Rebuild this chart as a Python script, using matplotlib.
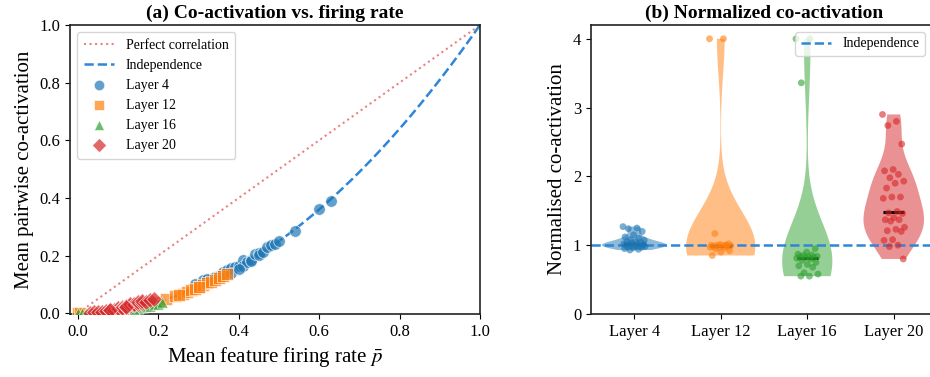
import numpy as np
import matplotlib
matplotlib.use("Agg")
from matplotlib import pyplot as plt

plt.rcParams['font.family'] = ['Liberation Serif', 'DejaVu Serif']
plt.rcParams['mathtext.fontset'] = 'stix'

# ---- panel (a) data: mean firing rate vs mean pairwise co-activation ----
l4_x = [0.29, 0.31, 0.33, 0.34, 0.36, 0.37, 0.38, 0.39, 0.40, 0.41, 0.41, 0.42, 0.43, 0.43, 0.44,
        0.45, 0.45, 0.46, 0.47, 0.48, 0.49, 0.50, 0.54, 0.60, 0.63, 0.36, 0.38, 0.40, 0.32, 0.35]
l4_y = [0.100, 0.115, 0.120, 0.127, 0.143, 0.150, 0.156, 0.160, 0.165, 0.185, 0.163, 0.176, 0.185, 0.180, 0.204,
        0.209, 0.203, 0.212, 0.228, 0.235, 0.240, 0.250, 0.286, 0.360, 0.389, 0.130, 0.141, 0.154, 0.118, 0.129]

l12_x = [0.0, 0.005, 0.18, 0.20, 0.22, 0.24, 0.26, 0.27, 0.28, 0.29, 0.30, 0.31, 0.32, 0.33, 0.34,
         0.35, 0.36, 0.37, 0.25, 0.30]
l12_y = [0.0, 0.0001, 0.033, 0.040, 0.049, 0.058, 0.068, 0.073, 0.079, 0.085, 0.090, 0.097, 0.104, 0.109, 0.116,
         0.122, 0.130, 0.136, 0.062, 0.092]

l16_x = [0.0, 0.01, 0.02, 0.04, 0.06, 0.08, 0.10, 0.11, 0.12, 0.13, 0.14, 0.15, 0.16, 0.17, 0.18,
         0.19, 0.20, 0.21, 0.09, 0.14]
l16_y = [0.0, 0.0002, 0.0004, 0.0012, 0.0025, 0.0045, 0.008, 0.0085, 0.011, 0.012, 0.015, 0.018, 0.020, 0.024, 0.026,
         0.030, 0.033, 0.038, 0.006, 0.013]

l20_x = [0.03, 0.04, 0.05, 0.06, 0.07, 0.08, 0.09, 0.10, 0.10, 0.11, 0.11, 0.12, 0.12, 0.13, 0.13,
         0.14, 0.14, 0.15, 0.15, 0.16, 0.16, 0.17, 0.18, 0.19, 0.08, 0.12]
l20_y = [0.0015, 0.0025, 0.004, 0.0055, 0.0075, 0.010, 0.012, 0.015, 0.018, 0.020, 0.017, 0.022, 0.026, 0.025, 0.030,
         0.028, 0.033, 0.032, 0.037, 0.035, 0.041, 0.040, 0.045, 0.050, 0.012, 0.020]

# ---- panel (b) data: normalised co-activation per layer (clipped at 4) ----
layer_names = ['Layer 4', 'Layer 12', 'Layer 16', 'Layer 20']
norm_l4 = [1.27, 1.25, 1.24, 1.20, 1.15, 1.12, 1.10, 1.08, 1.07, 1.05, 1.05, 1.04, 1.03, 1.02, 1.02,
           1.01, 1.00, 1.00, 1.00, 0.99, 0.99, 0.98, 0.98, 0.97, 0.97, 0.96, 0.95, 0.94, 0.93, 1.01]
norm_l12 = [4.0, 4.0, 1.17, 1.02, 1.01, 1.00, 1.00, 1.00, 0.99, 0.99, 0.98, 0.98, 0.97, 0.97, 0.96,
            0.95, 0.92, 0.90, 0.85, 1.00]
norm_l16 = [4.0, 4.0, 3.36, 0.95, 0.90, 0.87, 0.86, 0.85, 0.84, 0.83, 0.83, 0.82, 0.82, 0.81, 0.80,
            0.78, 0.75, 0.72, 0.70, 0.68, 0.60, 0.58, 0.55, 0.55]
norm_l20 = [2.90, 2.80, 2.74, 2.47, 2.10, 2.08, 2.03, 1.98, 1.93, 1.90, 1.83, 1.70, 1.70, 1.68, 1.49,
            1.47, 1.46, 1.40, 1.37, 1.37, 1.35, 1.26, 1.23, 1.21, 1.20, 1.08, 1.07, 1.00, 0.98, 0.80]

colors = ['#1f77b4', '#ff7f0e', '#2ca02c', '#d62728']
markers = ['o', 's', '^', 'D']
marker_sizes = [70, 70, 65, 65]
indep_color = '#2f86d6'

fig = plt.figure(figsize=(9.3, 3.77), dpi=100)
ax1 = fig.add_axes([70 / 930, 1 - 314 / 377, 410 / 930, 289 / 377])
ax2 = fig.add_axes([591 / 930, 1 - 314 / 377, 346 / 930, 289 / 377])

# panel (a)
line_x = np.linspace(0, 1, 200)
ax1.plot(line_x, line_x, ls=':', color='#e06666', alpha=0.8, lw=1.5, label='Perfect correlation')
ax1.plot(line_x, line_x ** 2, ls='--', color=indep_color, lw=1.8, label='Independence')
series = [(l4_x, l4_y), (l12_x, l12_y), (l16_x, l16_y), (l20_x, l20_y)]
for (xs, ys), c, m, sz, name in zip(series, colors, markers, marker_sizes, layer_names):
    ax1.scatter(xs, ys, s=sz, marker=m, color=c, alpha=0.7,
                edgecolors='white', linewidths=0.6, label=name, zorder=3)
ax1.set_xlim(-0.02, 1.0)
ax1.set_ylim(-0.003, 1.0)
ax1.set_xticks(np.arange(0, 1.01, 0.2))
ax1.set_yticks(np.arange(0, 1.01, 0.2))
ax1.set_xlabel(r'Mean feature firing rate $\bar{p}$', fontsize=15)
ax1.set_ylabel('Mean pairwise co-activation', fontsize=15)
ax1.set_title('(a) Co-activation vs. firing rate', fontsize=14, fontweight='bold', pad=5)
ax1.tick_params(labelsize=12)
ax1.legend(loc='upper left', fontsize=10, framealpha=0.8, edgecolor='#cccccc',
           handlelength=2.2, borderpad=0.5, markerscale=0.9)

# panel (b)
groups = [norm_l4, norm_l12, norm_l16, norm_l20]
vwidths = [0.75, 0.8, 0.58, 0.7]
for i, (vals, c) in enumerate(zip(groups, colors)):
    parts = ax2.violinplot([vals], positions=[i], widths=vwidths[i], showextrema=False)
    for b in parts['bodies']:
        b.set_facecolor(c)
        b.set_edgecolor('none')
        b.set_alpha(0.5)
    med = np.median(vals)
    ax2.hlines(med, i - 0.12, i + 0.12, color='black', lw=2.2, zorder=3)
    n = len(vals)
    offs = ((np.arange(n) * 0.618) % 1 - 0.5) * 0.26
    ax2.scatter(i + offs, vals, s=24, color=c, alpha=0.6, edgecolors='none', zorder=4)

ax2.axhline(1.0, ls='--', color=indep_color, lw=1.8, label='Independence', zorder=2)
ax2.set_xlim(-0.5, 3.5)
ax2.set_ylim(0, 4.2)
ax2.set_xticks(range(4))
ax2.set_xticklabels(layer_names)
ax2.set_yticks([0, 1, 2, 3, 4])
ax2.set_ylabel('Normalised co-activation', fontsize=15)
ax2.set_title('(b) Normalized co-activation', fontsize=14, fontweight='bold', pad=5)
ax2.tick_params(labelsize=12)
ax2.legend(loc='upper right', fontsize=10, framealpha=0.8, edgecolor='#cccccc',
           bbox_to_anchor=(0.985, 1.0), handlelength=2.2)

for ax in (ax1, ax2):
    for sp in ax.spines.values():
        sp.set_linewidth(1.2)
        sp.set_color('#222222')

fig.savefig('out.png', dpi=100)
